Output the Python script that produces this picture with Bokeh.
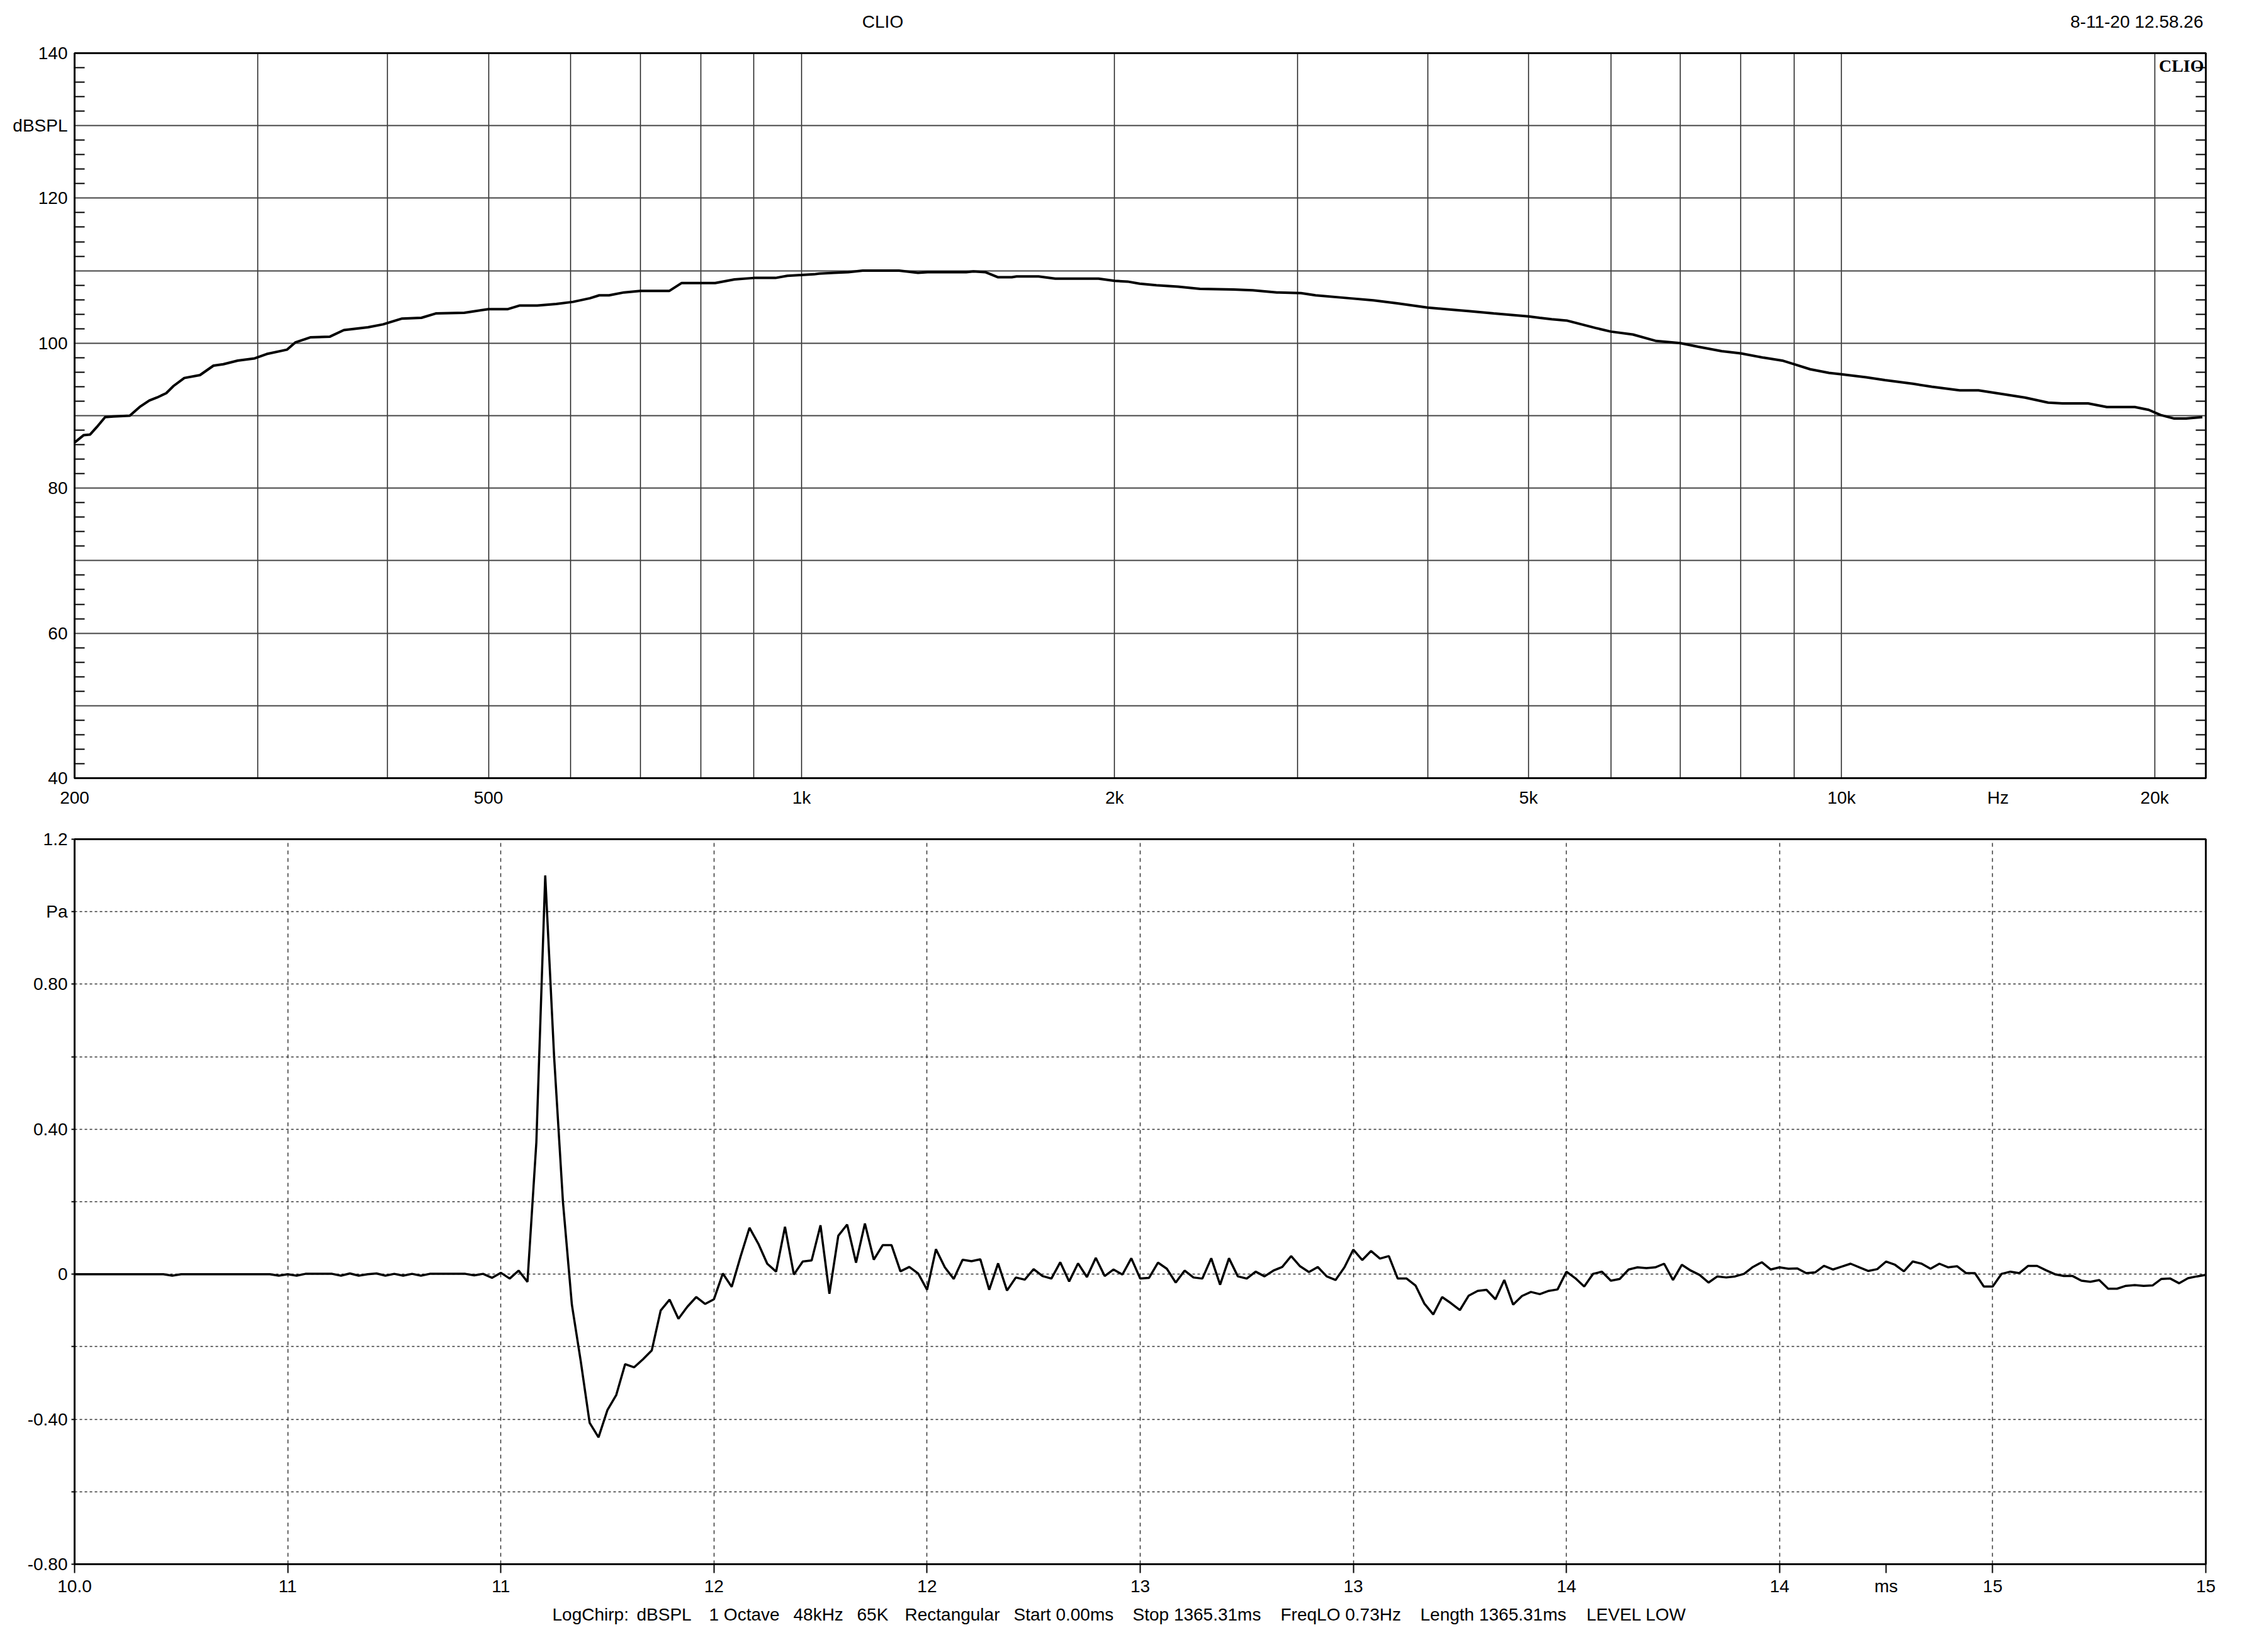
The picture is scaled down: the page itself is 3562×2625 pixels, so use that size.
import numpy as np
from bokeh.plotting import figure
from bokeh.models import Range1d, FixedTicker, LinearAxis, Label
from bokeh.layouts import column
from bokeh.embed import file_html
from bokeh.resources import INLINE
from bokeh.core.properties import value

# ---------------- data: frequency response (top) ----------------
freq_hz = [200, 204, 207, 210, 214, 218, 226, 231, 236, 240, 245, 249, 255, 264, 272, 278, 287, 298,
           306, 320, 326, 337, 352, 363, 383, 396, 413, 431, 445, 474, 500, 522, 536, 557, 581, 603,
           626, 639, 653, 675, 700, 746, 767, 826, 862, 900, 944, 969, 999, 1028, 1040, 1074, 1109,
           1145, 1241, 1260, 1294, 1322, 1440, 1463, 1502, 1544, 1593, 1610, 1690, 1754, 1930, 2000,
           2058, 2114, 2194, 2302, 2416, 2602, 2716, 2865, 3022, 3121, 3362, 3548, 3740, 4000, 4163,
           4391, 4630, 5000, 5124, 5264, 5450, 5623, 5800, 6000, 6300, 6635, 7000, 7281, 7670, 8000,
           8414, 8770, 9000, 9330, 9725, 10000, 10560, 11010, 11710, 12210, 12990, 13540, 14260,
           15010, 15800, 16310, 17260, 17990, 19140, 19740, 20260, 20890, 21440, 22230]
spl_db = [86.3, 87.3, 87.4, 88.4, 89.8, 89.9, 90.0, 91.2, 92.1, 92.5, 93.1, 94.1, 95.2, 95.6, 96.9,
          97.1, 97.6, 97.9, 98.5, 99.1, 100.1, 100.8, 100.9, 101.8, 102.2, 102.6, 103.4, 103.5,
          104.1, 104.2, 104.7, 104.7, 105.2, 105.2, 105.4, 105.7, 106.2, 106.6, 106.6, 107.0, 107.2,
          107.2, 108.3, 108.3, 108.8, 109.0, 109.0, 109.3, 109.4, 109.5, 109.6, 109.7, 109.8, 110.0,
          110.0, 109.9, 109.7, 109.8, 109.8, 109.9, 109.8, 109.1, 109.1, 109.2, 109.2, 108.9, 108.9,
          108.6, 108.5, 108.2, 108.0, 107.8, 107.5, 107.4, 107.3, 107.0, 106.9, 106.6, 106.2, 105.9,
          105.5, 104.9, 104.7, 104.4, 104.1, 103.7, 103.5, 103.3, 103.1, 102.6, 102.1, 101.6, 101.2,
          100.3, 100.0, 99.5, 98.9, 98.6, 98.0, 97.6, 97.1, 96.4, 95.9, 95.7, 95.3, 94.9, 94.4, 94.0,
          93.5, 93.5, 93.0, 92.5, 91.8, 91.7, 91.7, 91.2, 91.2, 90.8, 90.1, 89.6, 89.6, 89.8]

freq_ticks = [200, 500, 1000, 2000, 5000, 10000, 14142, 20000]
freq_labels = ["200", "500", "1k", "2k", "5k", "10k", "Hz", "20k"]
freq_grid = [300, 400, 500, 600, 700, 800, 900, 1000, 2000, 3000, 4000, 5000, 6000, 7000, 8000,
             9000, 10000, 20000]
spl_ticks = [40, 50, 60, 70, 80, 90, 100, 110, 120, 130, 140]
spl_labels = ["40", "", "60", "", "80", "", "100", "", "120", "dBSPL", "140"]
spl_minor = [v + d for v in spl_ticks[:-1] for d in (2, 4, 6, 8)]

# ---------------- data: impulse response (bottom) ----------------
sample_rate_khz = 48.0
t_start_ms = 10.0
pressure_pa = [
    0, 0, 0, 0, 0, 0, 0, 0, 0, 0, 0, -0.004, 0, 0, 0, 0, 0, 0, 0, 0, 0, 0, 0, -0.004,
    0, -0.004, 0.001, 0.001, 0.001, 0.001, -0.004, 0.002, -0.004, 0.0, 0.002, -0.004, 0.001, -0.004,
    0.001, -0.004, 0.001, 0.001, 0.001, 0.001, 0.001, -0.003, 0.001, -0.010,
    0.004, -0.012, 0.010, -0.021, 0.364, 1.10, 0.60, 0.198, -0.084, -0.24, -0.41, -0.45,
    -0.375, -0.333, -0.248, -0.257, -0.235, -0.21, -0.10, -0.07, -0.123, -0.09, -0.063, -0.082,
    -0.069, 0.002, -0.035, 0.049, 0.128, 0.084, 0.029, 0.007, 0.131, -0.001, 0.035, 0.038,
    0.135, -0.054, 0.106, 0.137, 0.032, 0.140, 0.04, 0.08, 0.08, 0.008, 0.02, 0.002,
    -0.043, 0.069, 0.019, -0.013, 0.040, 0.036, 0.041, -0.043, 0.030, -0.045, -0.009, -0.015,
    0.014, -0.005, -0.012, 0.033, -0.020, 0.030, -0.008, 0.045, -0.005, 0.013, -0.001, 0.044,
    -0.012, -0.010, 0.032, 0.015, -0.023, 0.010, -0.009, -0.012, 0.044, -0.029, 0.044, -0.006,
    -0.012, 0.007, -0.006, 0.010, 0.020, 0.050, 0.022, 0.006, 0.020, -0.006, -0.016, 0.019,
    0.068, 0.039, 0.064, 0.043, 0.050, -0.012, -0.012, -0.031, -0.081, -0.111, -0.063, -0.080,
    -0.099, -0.059, -0.046, -0.043, -0.069, -0.016, -0.084, -0.060, -0.049, -0.055, -0.046, -0.042,
    0.007, -0.011, -0.034, 0.001, 0.007, -0.018, -0.013, 0.013, 0.019, 0.017, 0.019, 0.029,
    -0.016, 0.026, 0.010, -0.002, -0.023, -0.006, -0.009, -0.006, 0.001, 0.020, 0.033, 0.013,
    0.019, 0.015, 0.016, 0.003, 0.005, 0.023, 0.013, 0.021, 0.029, 0.019, 0.009, 0.014,
    0.035, 0.026, 0.008, 0.035, 0.029, 0.015, 0.029, 0.019, 0.022, 0.003, 0.003, -0.034,
    -0.034, 0.001, 0.007, 0.003, 0.023, 0.023, 0.011, 0.000, -0.005, -0.005, -0.018, -0.021,
    -0.016, -0.040, -0.040, -0.032, -0.030, -0.032, -0.031, -0.013, -0.012, -0.025, -0.011, -0.006,
    -0.002]
time_ms = t_start_ms + np.arange(len(pressure_pa)) / sample_rate_khz

time_ticks = [10.0, 10.5, 11.0, 11.5, 12.0, 12.5, 13.0, 13.5, 14.0, 14.25, 14.5, 15.0]
time_labels = ["10.0", "11", "11", "12", "12", "13", "13", "14", "14", "ms", "15", "15"]
time_grid = [10.5, 11.0, 11.5, 12.0, 12.5, 13.0, 13.5, 14.0, 14.5]
pa_ticks = [-0.8, -0.6, -0.4, -0.2, 0.0, 0.2, 0.4, 0.6, 0.8, 1.0, 1.2]
pa_labels = ["-0.80", "", "-0.40", "", "0", "", "0.40", "", "0.80", "Pa", "1.2"]
pa_grid = [-0.6, -0.4, -0.2, 0.0, 0.2, 0.4, 0.6, 0.8, 1.0]

title_text = "CLIO"
date_text = "8-11-20 12.58.26"
footer_items = ["LogChirp:", "dBSPL", "1 Octave", "48kHz", "65K", "Rectangular", "Start 0.00ms",
                "Stop 1365.31ms", "FreqLO 0.73Hz", "Length 1365.31ms", "LEVEL LOW"]
footer_item_x = [877, 1011, 1126, 1260, 1361, 1437, 1610, 1799, 2034, 2256, 2520]  # layout (px)

# ---------------- layout constants ----------------
FONT = "Liberation Sans"
FS = "28px"
W = 3546
LEFT = 118
FW, FH = 3386, 1152
RIGHT = W - LEFT - FW
HDR_H, FTR_H = 68, 52


def style_axis(ax, tick_out=0, standoff=10):
    ax.axis_line_color = "black"
    ax.axis_line_width = 3
    ax.major_tick_line_color = "black"
    ax.major_tick_line_width = 2
    ax.major_tick_in = 0
    ax.major_tick_out = tick_out
    ax.minor_tick_in = 0
    ax.minor_tick_out = 0
    ax.major_label_text_font = FONT
    ax.major_label_text_font_size = FS
    ax.major_label_text_color = "black"
    ax.major_label_standoff = standoff


def text_strip(height):
    # a strip whose data coordinates are the page's pixel coordinates
    f = figure(title=None, x_range=Range1d(LEFT, LEFT + FW), y_range=Range1d(0, height),
               frame_width=FW, frame_height=height, min_border_left=LEFT, min_border_right=RIGHT,
               min_border_top=0, min_border_bottom=0,
               x_axis_location=None, y_axis_location=None,
               toolbar_location=None, output_backend="svg")
    f.outline_line_color = None
    f.grid.visible = False
    return f


# ---------------- header ----------------
hdr = text_strip(HDR_H)
hdr.text(x=[1402], y=[HDR_H - 34], text=[title_text], text_align="center", text_baseline="middle",
         text_font=value(FONT), text_font_size=value(FS), text_color="black")
hdr.text(x=[3500], y=[HDR_H - 34], text=[date_text], text_align="right", text_baseline="middle",
         text_font=value(FONT), text_font_size=value(FS), text_color="black")

# ---------------- top: frequency response ----------------
top = figure(title=None, x_axis_type="log", x_range=Range1d(200, 22400), y_range=Range1d(40, 140),
             frame_width=FW, frame_height=FH, min_border_left=LEFT, min_border_right=RIGHT,
             min_border_top=16, min_border_bottom=64,
             toolbar_location=None, output_backend="svg")
top.outline_line_color = "black"
top.outline_line_width = 3
top.line(freq_hz, spl_db, line_color="black", line_width=4)

xa = top.xaxis[0]
xa.ticker = FixedTicker(ticks=freq_ticks)
xa.major_label_overrides = dict(zip(freq_ticks, freq_labels))
style_axis(xa, tick_out=0, standoff=15)

ya = top.yaxis[0]
ya.ticker = FixedTicker(ticks=spl_ticks, minor_ticks=spl_minor)
ya.major_label_overrides = dict(zip(spl_ticks, spl_labels))
style_axis(ya, tick_out=0, standoff=11)
ya.minor_tick_in = 16
ya.minor_tick_line_width = 2
ya.minor_tick_line_color = "black"

ra = LinearAxis(ticker=FixedTicker(ticks=spl_ticks, minor_ticks=spl_minor))
ra.major_label_overrides = {t: "" for t in spl_ticks}
style_axis(ra, tick_out=0, standoff=0)
ra.minor_tick_in = 16
ra.minor_tick_line_width = 2
ra.minor_tick_line_color = "black"
top.add_layout(ra, "right")

top.xgrid.ticker = FixedTicker(ticks=freq_grid)
top.xgrid.grid_line_color = "#1a1a1a"
top.xgrid.grid_line_width = 1.5
top.ygrid.ticker = FixedTicker(ticks=spl_ticks[1:-1])
top.ygrid.grid_line_color = "#444444"
top.ygrid.grid_line_width = 2

top.add_layout(Label(x=22400, y=140, text="CLIO", text_align="right", text_baseline="top",
                     x_offset=-3, y_offset=-4, text_font="Liberation Serif",
                     text_font_style="bold", text_font_size="28px", text_color="black"))

# ---------------- bottom: impulse response ----------------
bot = figure(title=None, x_range=Range1d(10, 15), y_range=Range1d(-0.8, 1.2),
             frame_width=FW, frame_height=FH, min_border_left=LEFT, min_border_right=RIGHT,
             min_border_top=33, min_border_bottom=60,
             toolbar_location=None, output_backend="svg")
bot.outline_line_color = "black"
bot.outline_line_width = 3
bot.line(time_ms, pressure_pa, line_color="black", line_width=3.5)

bx = bot.xaxis[0]
bx.ticker = FixedTicker(ticks=time_ticks)
bx.major_label_overrides = dict(zip(time_ticks, time_labels))
style_axis(bx, tick_out=14, standoff=5)

by = bot.yaxis[0]
by.ticker = FixedTicker(ticks=pa_ticks)
by.major_label_overrides = dict(zip(pa_ticks, pa_labels))
style_axis(by, tick_out=5, standoff=6)

bot.xgrid.ticker = FixedTicker(ticks=time_grid)
bot.xgrid.grid_line_color = "#333333"
bot.xgrid.grid_line_width = 1.5
bot.xgrid.grid_line_dash = "6 6"
bot.ygrid.ticker = FixedTicker(ticks=pa_grid)
bot.ygrid.grid_line_color = "#333333"
bot.ygrid.grid_line_width = 1.5
bot.ygrid.grid_line_dash = "4 4"

# ---------------- footer ----------------
ftr = text_strip(FTR_H)
ftr.text(x=footer_item_x, y=[FTR_H - 20] * len(footer_items), text=footer_items,
         text_align="left", text_baseline="middle",
         text_font=value(FONT), text_font_size=value(FS), text_color="black")

page = column(hdr, top, bot, ftr, spacing=0)
open("out.html", "w").write(file_html(page, INLINE))
